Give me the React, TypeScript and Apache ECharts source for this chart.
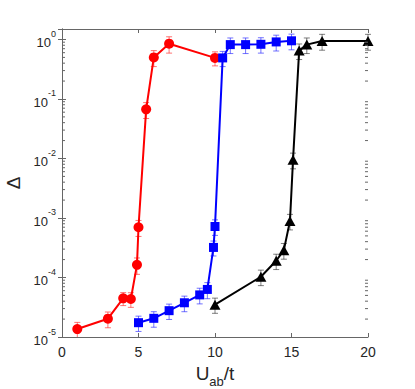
import React, { useEffect, useRef } from 'react';
import * as echarts from 'echarts';

const FONT = "'Liberation Sans', Arial, Helvetica, sans-serif";
const TXT = '#262626';
const AX = '#666666';

const X_MIN = 0;
const X_MAX = 20;
const X_INTERVAL = 5;
const Y_MIN = 1e-5;
const Y_MAX = 1.5;

const redX = [1, 3, 4, 4.5, 4.9, 5, 5.5, 6, 7, 10];
const redY = [1.36e-5, 2.03e-5, 4.47e-5, 4.35e-5, 1.63e-4, 7.0e-4, 0.067, 0.5, 0.85, 0.49];
const redErr = [0.4e-5, 0.6e-5, 1.1e-5, 1.2e-5, 0.5e-4, 2.1e-4, 0.02, 0.15, 0.26, 0.13];

const blueX = [5, 6, 7, 8, 9, 9.5, 9.9, 10, 10.5, 11, 12, 13, 14, 15];
const blueY = [1.74e-5, 2.06e-5, 2.77e-5, 3.76e-5, 5.1e-5, 6.3e-5, 3.2e-4, 7.2e-4, 0.49, 0.82, 0.82, 0.83, 0.91, 0.95];
const blueErr = [0.5e-5, 0.6e-5, 0.8e-5, 1.1e-5, 1.5e-5, 1.9e-5, 0.9e-4, 2.1e-4, 0.14, 0.24, 0.24, 0.24, 0.27, 0.28];

const blackX = [10, 13, 14, 14.5, 14.9, 15.1, 15.5, 16, 17, 20];
const blackY = [3.5e-5, 1.03e-4, 1.91e-4, 2.88e-4, 8.9e-4, 9.5e-3, 0.65, 0.82, 0.94, 0.94];
const blackErr = [1.0e-5, 0.3e-4, 0.55e-4, 0.85e-4, 2.6e-4, 2.8e-3, 0.19, 0.24, 0.28, 0.28];

const pairs = (xs: number[], ys: number[]) => xs.map((x, i) => [x, ys[i]]);
const triples = (xs: number[], ys: number[], es: number[]) => xs.map((x, i) => [x, ys[i], es[i]]);

// minor tick positions for the log axis (2..9 x 10^n), one list per side
const minorLeft: number[][] = [];
const minorRight: number[][] = [];
for (let n = -5; n <= 0; n++) {
  for (let k = 2; k <= 9; k++) {
    const v = k * Math.pow(10, n);
    if (v < Y_MAX) {
      minorLeft.push([X_MIN, v]);
      minorRight.push([X_MAX, v]);
    }
  }
}

const errRender = (color: string) => (params: any, api: any) => {
  const x = api.value(0);
  const y = api.value(1);
  const e = api.value(2);
  const hiV = Math.min(y + e, Y_MAX);
  const loV = Math.max(y - e, Y_MIN);
  const hi = api.coord([x, hiV]);
  const lo = api.coord([x, loV]);
  const cap = 3;
  const style = { stroke: color, lineWidth: 1 };
  const children: any[] = [
    { type: 'line', shape: { x1: hi[0], y1: hi[1], x2: lo[0], y2: lo[1] }, style },
  ];
  if (y + e <= Y_MAX)
    children.push({ type: 'line', shape: { x1: hi[0] - cap, y1: hi[1], x2: hi[0] + cap, y2: hi[1] }, style });
  if (y - e >= Y_MIN)
    children.push({ type: 'line', shape: { x1: lo[0] - cap, y1: lo[1], x2: lo[0] + cap, y2: lo[1] }, style });
  return { type: 'group', children };
};

const minorRender = (dir: number) => (params: any, api: any) => {
  const p = api.coord([api.value(0), api.value(1)]);
  return {
    type: 'line',
    shape: { x1: p[0], y1: p[1], x2: p[0] + dir * 3, y2: p[1] },
    style: { stroke: AX, lineWidth: 1 },
  };
};

const yLabelFormatter = (v: number) => {
  const e = Math.log10(v);
  const n = Math.round(e);
  if (Math.abs(e - n) > 1e-6) return '';
  return `{b|10}{s|${n}}`;
};

export default function App() {
  const ref = useRef<HTMLDivElement>(null);
  useEffect(() => {
    const chart = echarts.init(ref.current!, null, { renderer: 'svg' });
    const axisLine = { show: true, lineStyle: { color: AX, width: 1 } };
    const baseX = {
      type: 'value',
      min: X_MIN,
      max: X_MAX,
      interval: X_INTERVAL,
      axisLine,
      axisTick: { show: true, inside: true, length: 4, lineStyle: { color: AX } },
      splitLine: { show: false },
    };
    const baseY = {
      type: 'log',
      logBase: 10,
      min: Y_MIN,
      max: Y_MAX,
      axisLine,
      axisTick: { show: true, inside: true, length: 4, lineStyle: { color: AX } },
      splitLine: { show: false },
    };
    const option: any = {
      animation: false,
      backgroundColor: '#ffffff',
      grid: { left: 62, right: 47, top: 29, bottom: 52, containLabel: false, outerBoundsMode: 'none' },
      xAxis: [
        {
          ...baseX,
          position: 'bottom',
          axisLabel: { show: true, color: TXT, fontSize: 14, fontFamily: FONT, margin: 8 },
          name: '{u|U}{s|ab}{u|/t}',
          nameLocation: 'middle',
          nameGap: 21,
          nameTextStyle: {
            rich: {
              u: { fontSize: 19, fontFamily: FONT, color: TXT, lineHeight: 24, verticalAlign: 'top' },
              s: { fontSize: 13, fontFamily: FONT, color: TXT, lineHeight: 24, verticalAlign: 'bottom' },
            },
          },
        },
        {
          ...baseX,
          position: 'top',
          axisLabel: { show: false },
        },
      ],
      yAxis: [
        {
          ...baseY,
          position: 'left',
          axisLabel: {
            show: true,
            margin: 6,
            formatter: yLabelFormatter,
            rich: {
              b: { fontSize: 13, fontFamily: FONT, color: TXT, lineHeight: 20, verticalAlign: 'bottom' },
              s: { fontSize: 9, fontFamily: FONT, color: TXT, lineHeight: 20, verticalAlign: 'top' },
            },
          },
          name: 'Δ',
          nameLocation: 'middle',
          nameRotate: 90,
          nameGap: 34,
          nameTextStyle: { fontSize: 19, fontFamily: FONT, color: TXT },
        },
        {
          ...baseY,
          position: 'right',
          axisLabel: { show: false },
        },
      ],
      series: [
        {
          type: 'custom',
          renderItem: minorRender(1),
          data: minorLeft,
          encode: { x: 0, y: 1 },
          silent: true,
          clip: false,
          z: 5,
        },
        {
          type: 'custom',
          renderItem: minorRender(-1),
          data: minorRight,
          encode: { x: 0, y: 1 },
          silent: true,
          clip: false,
          z: 5,
        },
        {
          type: 'custom',
          renderItem: errRender('rgba(255,40,40,0.65)'),
          data: triples(redX, redY, redErr),
          encode: { x: 0, y: 1 },
          z: 1,
        },
        {
          type: 'custom',
          renderItem: errRender('rgba(40,40,255,0.65)'),
          data: triples(blueX, blueY, blueErr),
          encode: { x: 0, y: 1 },
          z: 1,
        },
        {
          type: 'custom',
          renderItem: errRender('rgba(0,0,0,0.5)'),
          data: triples(blackX, blackY, blackErr),
          encode: { x: 0, y: 1 },
          z: 1,
        },
        {
          type: 'line',
          data: pairs(redX, redY),
          symbol: 'circle',
          symbolSize: 10,
          showAllSymbol: true,
          lineStyle: { color: '#ff0000', width: 2 },
          itemStyle: { color: '#ff0000' },
          z: 2,
        },
        {
          type: 'line',
          data: pairs(blueX, blueY),
          symbol: 'rect',
          symbolSize: 9,
          showAllSymbol: true,
          lineStyle: { color: '#0000ff', width: 2 },
          itemStyle: { color: '#0000ff' },
          z: 2,
        },
        {
          type: 'line',
          data: pairs(blackX, blackY),
          symbol: 'triangle',
          symbolSize: [11, 10],
          showAllSymbol: true,
          lineStyle: { color: '#000000', width: 2 },
          itemStyle: { color: '#000000' },
          z: 2,
        },
      ],
    };
    chart.setOption(option);
    return () => chart.dispose();
  }, []);
  return (
    <div
      ref={ref}
      style={{ position: 'fixed', left: 0, top: 0, width: 415, height: 389, background: '#fff' }}
    />
  );
}
